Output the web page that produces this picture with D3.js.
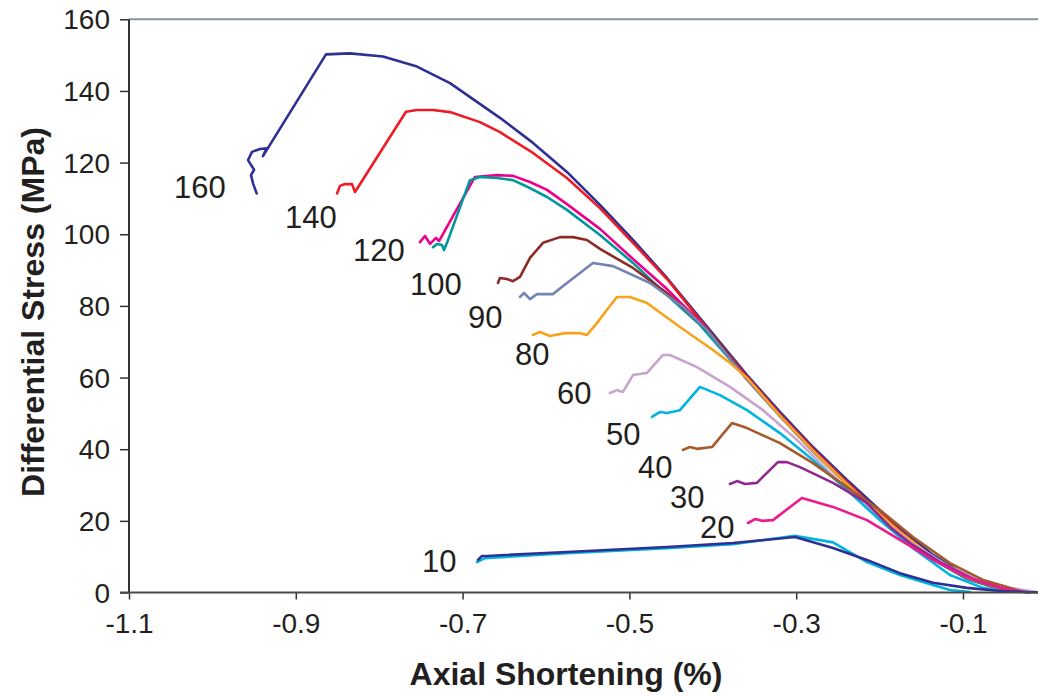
<!DOCTYPE html>
<html>
<head>
<meta charset="utf-8">
<script src="https://cdn.jsdelivr.net/npm/d3@7"></script>
<style>
  html, body { margin: 0; padding: 0; background: #ffffff; }
  svg { display: block; }
</style>
</head>
<body>
<svg id="chart" width="1038" height="696"></svg>
<script>
// ---------- DATA (axial shortening %, differential stress MPa) ----------
const xTicks = [-1.1, -0.9, -0.7, -0.5, -0.3, -0.1];
const yTicks = [0, 20, 40, 60, 80, 100, 120, 140, 160];
const xTitle = "Axial Shortening (%)";
const yTitle = "Differential Stress (MPa)";

const s160 = [[-0.9469,111.4],[-0.9510,114.0],[-0.9537,116.5],[-0.9500,118.0],[-0.9573,120.7],[-0.9525,123.0],[-0.9429,123.8],[-0.9349,124.0],[-0.9394,121.8],[-0.8638,150.2],[-0.8350,150.5],[-0.7955,149.6],[-0.7547,146.8],[-0.7151,142.2],[-0.6552,132.5],[-0.6156,125.5],[-0.5749,117.4],[-0.5353,108.2],[-0.4957,98.4],[-0.4549,87.8],[-0.4154,76.6],[-0.3590,60.7],[-0.3195,50.4],[-0.2799,40.6],[-0.2391,31.4],[-0.1996,23.0],[-0.1756,18.0],[-0.1360,10.5],[-0.0953,4.6],[-0.0557,1.3],[-0.0317,0.3],[-0.0077,0.0]];
const s140 = [[-0.8506,111.4],[-0.8470,113.5],[-0.8410,114.0],[-0.8326,114.0],[-0.8290,111.8],[-0.7679,134.2],[-0.7547,134.7],[-0.7355,134.7],[-0.7151,134.1],[-0.6792,131.3],[-0.6552,128.5],[-0.6156,122.7],[-0.5749,115.7],[-0.5353,107.3],[-0.4957,97.6],[-0.4549,87.5],[-0.4154,76.1],[-0.3590,60.2],[-0.3195,49.8],[-0.2799,40.1],[-0.2391,30.8],[-0.1996,22.2],[-0.1756,17.2],[-0.1360,9.6],[-0.0953,4.0],[-0.0557,1.0],[-0.0197,0.0]];
const s120 = [[-0.7511,97.8],[-0.7451,99.5],[-0.7391,97.3],[-0.7319,99.0],[-0.7283,98.1],[-0.6852,116.0],[-0.6588,116.5],[-0.6396,116.3],[-0.6192,114.6],[-0.5988,112.4],[-0.5749,108.4],[-0.5353,101.5],[-0.4957,93.1],[-0.4549,84.7],[-0.4154,75.5],[-0.3998,71.6],[-0.3590,59.8],[-0.3195,49.6],[-0.2799,39.8],[-0.2391,30.5],[-0.1996,21.9],[-0.1756,16.8],[-0.1360,9.4],[-0.0953,4.0],[-0.0557,1.1],[-0.0197,0.0]];
const s100 = [[-0.7355,96.4],[-0.7307,97.3],[-0.7247,97.0],[-0.7223,95.6],[-0.7187,97.6],[-0.6912,115.1],[-0.6792,116.0],[-0.6588,115.7],[-0.6396,115.1],[-0.6192,112.9],[-0.5988,110.4],[-0.5749,106.8],[-0.5353,99.8],[-0.4957,92.0],[-0.4549,83.0],[-0.4154,74.7],[-0.3590,59.6],[-0.3195,49.4],[-0.2799,39.6],[-0.2391,30.3],[-0.1996,21.7],[-0.1756,16.6],[-0.1360,9.2],[-0.0953,3.8],[-0.0557,1.0],[-0.0197,0.0]];
const s90 = [[-0.6576,86.4],[-0.6552,87.8],[-0.6468,87.5],[-0.6396,86.9],[-0.6312,88.1],[-0.6192,93.4],[-0.6036,97.6],[-0.5832,99.2],[-0.5677,99.2],[-0.5509,98.4],[-0.5353,95.9],[-0.4957,90.6],[-0.4549,83.6],[-0.4154,75.2],[-0.3998,71.9],[-0.3590,59.5],[-0.3195,49.3],[-0.2799,39.5],[-0.2391,30.2],[-0.1996,21.5],[-0.1756,16.5],[-0.1360,9.3],[-0.0953,3.9],[-0.0557,1.0],[-0.0197,0.0]];
const s80 = [[-0.6312,82.5],[-0.6264,83.6],[-0.6192,81.9],[-0.6108,83.3],[-0.5916,83.3],[-0.5749,86.4],[-0.5593,89.2],[-0.5437,92.0],[-0.5197,91.1],[-0.4753,86.4],[-0.4358,79.7],[-0.4070,73.3],[-0.3590,59.4],[-0.3195,49.2],[-0.2799,39.4],[-0.2391,30.1],[-0.1996,21.6],[-0.1756,16.6],[-0.1360,9.4],[-0.0953,4.0],[-0.0557,1.1],[-0.0197,0.0]];
const s60 = [[-0.6156,71.9],[-0.6072,72.7],[-0.5952,71.6],[-0.5772,72.4],[-0.5593,72.4],[-0.5509,71.9],[-0.5389,75.2],[-0.5269,78.9],[-0.5149,82.5],[-0.4993,82.5],[-0.4789,80.8],[-0.4394,74.1],[-0.3998,67.7],[-0.3794,64.1],[-0.3590,59.9],[-0.3195,49.4],[-0.2799,39.6],[-0.2391,30.3],[-0.1996,21.8],[-0.1756,16.9],[-0.1360,9.8],[-0.0953,4.3],[-0.0557,1.2],[-0.0197,0.0]];
const s50 = [[-0.5233,55.7],[-0.5149,56.5],[-0.5077,56.0],[-0.4957,60.7],[-0.4789,61.3],[-0.4597,66.3],[-0.4514,66.3],[-0.4190,62.9],[-0.3794,57.4],[-0.3398,50.9],[-0.2991,42.6],[-0.2595,33.4],[-0.2115,23.0],[-0.1635,14.1],[-0.1156,7.1],[-0.0761,3.5],[-0.0437,1.3],[-0.0077,0.0]];
const s40 = [[-0.4729,49.0],[-0.4633,50.4],[-0.4549,50.1],[-0.4394,50.9],[-0.4154,57.4],[-0.3914,55.1],[-0.3590,50.9],[-0.3195,44.5],[-0.2799,37.0],[-0.2391,28.6],[-0.1996,20.2],[-0.1600,12.4],[-0.1156,4.9],[-0.0761,1.3],[-0.0437,0.1]];
const s30 = [[-0.4358,39.8],[-0.4274,40.6],[-0.4190,40.1],[-0.4010,40.6],[-0.3770,47.3],[-0.3590,45.9],[-0.3195,41.7],[-0.2799,36.1],[-0.2391,29.4],[-0.1996,23.0],[-0.1600,15.5],[-0.1156,8.2],[-0.0761,3.5],[-0.0317,0.4]];
const s20 = [[-0.3794,30.3],[-0.3710,31.1],[-0.3614,30.3],[-0.3471,30.6],[-0.3351,33.4],[-0.3219,36.4],[-0.3111,36.4],[-0.2955,35.0],[-0.2559,30.6],[-0.2152,25.0],[-0.1876,18.3],[-0.1636,13.8],[-0.1276,8.5],[-0.0857,3.5],[-0.0437,0.4]];
const s10 = [[-0.3578,19.4],[-0.3494,20.5],[-0.3410,20.0],[-0.3279,20.2],[-0.2931,26.4],[-0.2559,23.9],[-0.2152,20.2],[-0.1756,14.7],[-0.1360,9.1],[-0.0953,4.3],[-0.0557,1.3],[-0.0257,0.1]];
const s5a = [[-0.6828,8.5],[-0.6732,9.6],[-0.5749,11.0],[-0.4549,12.4],[-0.3758,13.5],[-0.3015,15.8],[-0.2559,14.0],[-0.2152,8.5],[-0.1756,4.9],[-0.1360,2.1],[-0.1156,0.7],[-0.0913,0.1]];
const s5b = [[-0.6816,9.1],[-0.6768,10.2],[-0.6708,10.2],[-0.5749,11.3],[-0.4549,12.7],[-0.3758,13.8],[-0.3015,15.5],[-0.2559,12.4],[-0.2152,9.1],[-0.1756,5.4],[-0.1360,2.7],[-0.0953,1.3],[-0.0557,0.4],[-0.0077,0.0]];

const seriesData  = [s160, s140, s120, s100, s90, s80, s60, s50, s40, s30, s20, s10, s5a, s5b];
const seriesColor = ["#2E3192","#ED1C24","#EC008C","#00979D","#8E2A24","#7483B4","#F7A21B","#C9A3CF","#00B4E1","#A65A2A","#92278F","#EC1A8C","#00B4E1","#2E3192"];

// curve labels (confining pressure) and their anchor point in data units
const labelText = ["160","140","120","100","90","80","60","50","40","30","20","10"];
const labelX    = [-1.0461,-0.9130,-0.8314,-0.7631,-0.6935,-0.6372,-0.5868,-0.5281,-0.4897,-0.4514,-0.4154,-0.7487];
const labelY    = [110.1,101.7,92.5,83.0,73.8,63.5,52.6,41.2,32.0,23.6,15.2,5.7];

// ---------- DRAWING ----------
const svg = d3.select("#chart");
const FONT = "'Liberation Sans', Arial, Helvetica, sans-serif";
const INK = "#231F20";

const x = d3.scaleLinear().domain([-1.1, 0]).range([129, 129 + 834 * 1.1]);
const y = d3.scaleLinear().domain([0, 160]).range([592.5, 19.3]);

// top frame line
svg.append("line")
  .attr("x1", x(-1.1)).attr("x2", 1038)
  .attr("y1", y(160)).attr("y2", y(160))
  .attr("stroke", "#8A9399").attr("stroke-width", 2);

// curves
const line = d3.line().x(d => x(d[0])).y(d => y(d[1]));
const clip = svg.append("defs").append("clipPath").attr("id", "plotclip")
  .append("rect").attr("x", x(-1.1)).attr("y", 0).attr("width", 1038 - x(-1.1)).attr("height", y(0) + 1);
const gCurves = svg.append("g").attr("clip-path", "url(#plotclip)");
seriesData.forEach((s, i) => {
  gCurves.append("path")
    .datum(s)
    .attr("d", line)
    .attr("fill", "none")
    .attr("stroke", seriesColor[i])
    .attr("stroke-width", 2.6)
    .attr("stroke-linejoin", "round")
    .attr("stroke-linecap", "round");
});

// axes
const yAxis = d3.axisLeft(y).tickValues(yTicks).tickSize(9).tickPadding(10).tickFormat(d => String(d));
const gy = svg.append("g").attr("transform", `translate(${x(-1.1)},0)`).call(yAxis);
gy.select(".domain").remove();
gy.selectAll(".tick line").attr("stroke", "#333").attr("stroke-width", 1.5);
gy.selectAll(".tick text").attr("font-family", FONT).attr("font-size", 28).attr("fill", INK).attr("dy", "0.34em");

const xAxis = d3.axisBottom(x).tickValues(xTicks).tickSize(7).tickPadding(14).tickFormat(d => d.toFixed(1));
const gx = svg.append("g").attr("transform", `translate(0,${y(0)})`).call(xAxis);
gx.select(".domain").remove();
gx.selectAll(".tick line").attr("stroke", "#333").attr("stroke-width", 1.5);
gx.selectAll(".tick text").attr("font-family", FONT).attr("font-size", 28).attr("fill", INK).attr("dy", "0.71em");

// axis lines
svg.append("line")
  .attr("x1", x(-1.1)).attr("x2", x(-1.1)).attr("y1", y(160)).attr("y2", y(0))
  .attr("stroke", "#333").attr("stroke-width", 2);
svg.append("line")
  .attr("x1", x(-1.1) - 9).attr("x2", 1038).attr("y1", y(0)).attr("y2", y(0))
  .attr("stroke", "#4A4A4A").attr("stroke-width", 2);

// curve labels
svg.append("g").selectAll("text").data(labelText).join("text")
  .attr("x", (d, i) => x(labelX[i]))
  .attr("y", (d, i) => y(labelY[i]))
  .attr("font-family", FONT).attr("font-size", 31).attr("fill", INK)
  .text(d => d);

// axis titles
svg.append("text")
  .attr("x", 566).attr("y", 685)
  .attr("text-anchor", "middle")
  .attr("font-family", FONT).attr("font-size", 32).attr("font-weight", "bold").attr("fill", INK)
  .text(xTitle);
svg.append("text")
  .attr("transform", "translate(44,312) rotate(-90)")
  .attr("text-anchor", "middle")
  .attr("font-family", FONT).attr("font-size", 32).attr("font-weight", "bold").attr("fill", INK)
  .text(yTitle);
</script>
</body>
</html>
